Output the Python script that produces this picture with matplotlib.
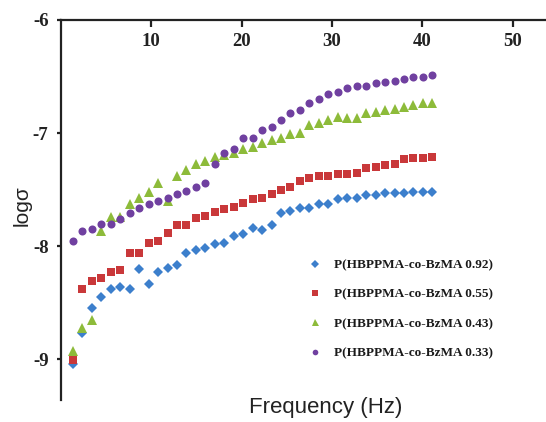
import matplotlib
matplotlib.use("Agg")
import matplotlib.pyplot as plt

plt.rcParams["axes.unicode_minus"] = False

# Frequency (Hz) of each measurement
freq = [1.33, 2.38, 3.42, 4.47, 5.52, 6.57, 7.61, 8.66, 9.71, 10.75,
        11.80, 12.85, 13.89, 14.94, 15.99, 17.04, 18.08, 19.13, 20.18, 21.22,
        22.27, 23.32, 24.36, 25.41, 26.46, 27.51, 28.55, 29.60, 30.65, 31.69,
        32.74, 33.79, 34.83, 35.88, 36.93, 37.98, 39.02, 40.07, 41.12]

# log(conductivity) for each copolymer composition
log_s_092 = [-9.04, -8.77, -8.55, -8.45, -8.38, -8.36, -8.38, -8.20, -8.33, -8.23,
             -8.19, -8.17, -8.06, -8.03, -8.02, -7.98, -7.97, -7.91, -7.89, -7.84,
             -7.86, -7.81, -7.71, -7.69, -7.66, -7.66, -7.63, -7.63, -7.58, -7.57,
             -7.57, -7.55, -7.55, -7.53, -7.53, -7.53, -7.52, -7.52, -7.52]
log_s_055 = [-9.01, -8.38, -8.31, -8.28, -8.23, -8.21, -8.06, -8.06, -7.97, -7.95,
             -7.88, -7.81, -7.81, -7.75, -7.73, -7.70, -7.67, -7.65, -7.62, -7.58,
             -7.57, -7.54, -7.50, -7.48, -7.42, -7.40, -7.38, -7.38, -7.36, -7.36,
             -7.35, -7.31, -7.30, -7.28, -7.27, -7.23, -7.22, -7.22, -7.21]
log_s_043 = [-8.93, -8.72, -8.65, -7.87, -7.74, -7.74, -7.63, -7.57, -7.52, -7.44,
             -7.60, -7.38, -7.33, -7.27, -7.25, -7.21, -7.19, -7.18, -7.14, -7.12,
             -7.09, -7.06, -7.04, -7.01, -7.00, -6.93, -6.91, -6.88, -6.86, -6.87,
             -6.87, -6.82, -6.81, -6.80, -6.79, -6.77, -6.75, -6.73, -6.73]
log_s_033 = [-7.95, -7.87, -7.85, -7.80, -7.80, -7.76, -7.71, -7.66, -7.63, -7.60,
             -7.57, -7.54, -7.51, -7.48, -7.44, -7.27, -7.18, -7.14, -7.04, -7.04,
             -6.97, -6.95, -6.88, -6.82, -6.80, -6.73, -6.70, -6.65, -6.64, -6.60,
             -6.58, -6.58, -6.56, -6.55, -6.54, -6.52, -6.50, -6.50, -6.49]

labels = ["P(HBPPMA-co-BzMA 0.92)", "P(HBPPMA-co-BzMA 0.55)",
          "P(HBPPMA-co-BzMA 0.43)", "P(HBPPMA-co-BzMA 0.33)"]
x_ticks = [10, 20, 30, 40, 50]
y_ticks = [-6, -7, -8, -9]

series = [log_s_092, log_s_055, log_s_043, log_s_033]
colors = ["#3C7FCC", "#C9383A", "#8DBB3A", "#7040A0"]
markers = ["D", "s", "^", "o"]
sizes = [5.4, 6.4, 7.2, 5.8]

fig = plt.figure(figsize=(5.46, 4.22), dpi=100)
ax = fig.add_axes([61 / 546, 22 / 422, 1 - 61 / 546, 1 - 42 / 422])

for ys, c, m, s, lab in zip(series, colors, markers, sizes, labels):
    ax.plot(freq, ys, linestyle="none", marker=m, color=c, markersize=s,
            markeredgewidth=0, label=lab)

ax.set_xlim(0, 53.7)
ax.set_ylim(-9.36, -6)
ax.set_xticks(x_ticks)
ax.set_yticks(y_ticks)

ax.spines["right"].set_visible(False)
ax.spines["bottom"].set_visible(False)
for side in ("left", "top"):
    ax.spines[side].set_linewidth(1.6)
    ax.spines[side].set_color("#222222")

serif = ["Liberation Serif", "DejaVu Serif"]
ax.xaxis.set_ticks_position("top")
ax.tick_params(axis="x", direction="in", length=5, width=1.6, color="#222222",
               top=True, bottom=False, labeltop=True, labelbottom=False, pad=-9)
ax.tick_params(axis="y", direction="out", length=3, width=1.6, color="#222222", pad=6)
for t in ax.get_xticklabels() + ax.get_yticklabels():
    t.set_fontfamily(serif)
    t.set_fontweight("bold")
    t.set_fontsize(13.5)
    t.set_color("#222222")
for t in ax.get_xticklabels():
    t.set_verticalalignment("top")

fig.text(326 / 546, 1 - 408 / 422, "Frequency (Hz)", ha="center", va="center",
         fontsize=16, family=["Liberation Sans", "DejaVu Sans"], color="#222222")
fig.text(22 / 546, 1 - 206 / 422, "logσ", ha="center", va="center", rotation=90,
         fontsize=15, family=["Liberation Sans", "DejaVu Sans"], color="#222222")

leg = ax.legend(loc="upper left", bbox_to_anchor=(308 / 546, 1 - 259 / 422),
                bbox_transform=fig.transFigure, frameon=False, borderpad=0,
                borderaxespad=0, handlelength=1.0, handletextpad=1.0,
                labelspacing=1.3, markerscale=0.7,
                prop={"family": serif, "weight": "bold", "size": 9.5})
for t in leg.get_texts():
    t.set_color("#1a1a1a")

fig.savefig("out.png", dpi=100)
